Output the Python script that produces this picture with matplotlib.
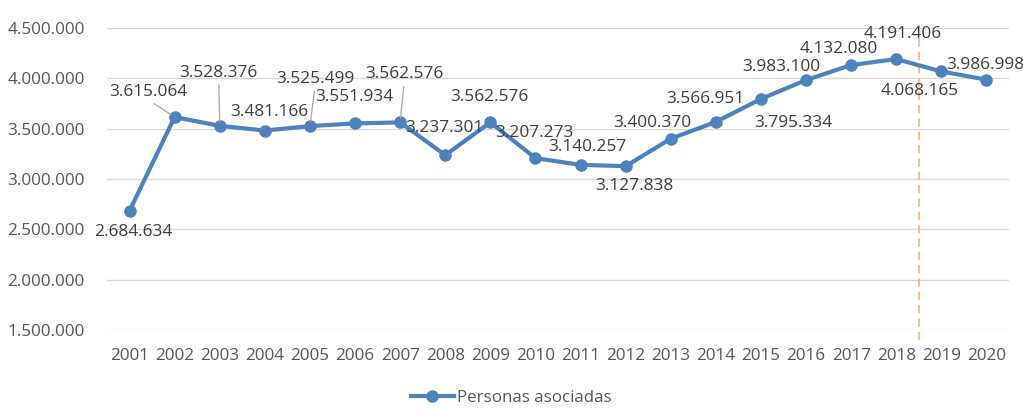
import numpy as np
import matplotlib
matplotlib.use("Agg")
import matplotlib.pyplot as plt

plt.rcParams['font.family'] = ['Open Sans', 'DejaVu Sans']

# datos
anios = ['2001', '2002', '2003', '2004', '2005', '2006', '2007', '2008', '2009', '2010',
         '2011', '2012', '2013', '2014', '2015', '2016', '2017', '2018', '2019', '2020']
personas = [2684634, 3615064, 3528376, 3481166, 3525499, 3551934, 3562576, 3237301,
            3562576, 3207273, 3140257, 3127838, 3400370, 3566951, 3795334, 3983100,
            4132080, 4191406, 4068165, 3986998]
etiquetas = ['2.684.634', '3.615.064', '3.528.376', '3.481.166', '3.525.499', '3.551.934',
             '3.562.576', '3.237.301', '3.562.576', '3.207.273', '3.140.257', '3.127.838',
             '3.400.370', '3.566.951', '3.795.334', '3.983.100', '4.132.080', '4.191.406',
             '4.068.165', '3.986.998']
y_ticks = [1500000, 2000000, 2500000, 3000000, 3500000, 4000000, 4500000]
y_tick_labels = ['1.500.000', '2.000.000', '2.500.000', '3.000.000', '3.500.000',
                 '4.000.000', '4.500.000']

# desplazamiento de cada etiqueta (pixeles) y si lleva linea guia
offsets = [(4, -21), (-26, 25), (-1, 53), (4, 19), (5, 47), (-1, 26), (4, 48), (-1, 27),
           (-1, 25), (-1, 25), (7, 18), (9, -20), (-18, 16), (-11, 23), (32, -24),
           (-25, 13), (-12, 16), (6, 25), (-22, -20), (-1, 15)]
guias = [False, True, True, False, True, False, True] + [False] * 13

azul = '#4F81BD'
x = np.arange(len(anios))

fig = plt.figure(figsize=(10.23, 4.11), dpi=100)
ax = fig.add_axes([107 / 1023, 1 - 330 / 411, 902 / 1023, 302 / 411])

ax.plot(x, personas, color=azul, linewidth=3, marker='o', markersize=8,
        label='Personas asociadas', zorder=3)

# linea vertical discontinua naranja entre 2018 y 2019
ax.axvline(17.5, ymin=-10 / 302, ymax=308 / 302, color='#F4B183', linewidth=1.2,
           linestyle=(0, (5, 3)), clip_on=False, zorder=2)

for i, (val, txt) in enumerate(zip(personas, etiquetas)):
    dx, dy = offsets[i]
    props = None
    if guias[i]:
        props = dict(arrowstyle='-', color='#A6A6A6', lw=0.9, shrinkA=1, shrinkB=3,
                     relpos=(0.5, 0))
    ax.annotate(txt, xy=(i, val), xytext=(dx, dy), textcoords='offset pixels',
                ha='center', va='center', fontsize=12.4, color='#404040',
                arrowprops=props, zorder=4)

ax.set_xlim(-0.5, len(anios) - 0.5)
ax.set_ylim(1500000, 4500000)
ax.set_yticks(y_ticks)
ax.set_yticklabels(y_tick_labels)
ax.set_xticks(x)
ax.set_xticklabels(anios)
ax.tick_params(axis='both', length=0, labelsize=12.3, labelcolor='#595959')
ax.tick_params(axis='y', pad=16)
ax.tick_params(axis='x', pad=13)
ax.grid(axis='y', color='#D9D9D9', linewidth=1)
ax.set_axisbelow(True)
for s in ax.spines.values():
    s.set_visible(False)

fig.legend(loc='center', bbox_to_anchor=(0.5, 1 - 398 / 411), frameon=False,
           fontsize=12.2, labelcolor='#595959', handlelength=2.5, handletextpad=0.2)

fig.savefig('out.png', dpi=100)
